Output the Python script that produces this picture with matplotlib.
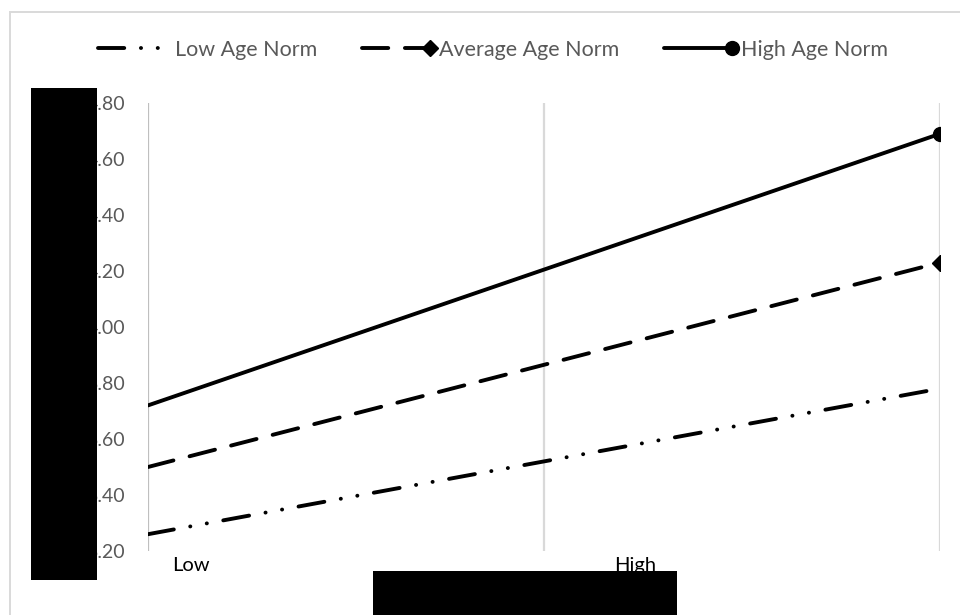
import matplotlib.pyplot as plt
from matplotlib.patches import Rectangle

plt.rcParams['font.family'] = ['Lato', 'DejaVu Sans']
plt.rcParams['lines.scale_dashes'] = False

## Dane
moderator = ['Low', 'High']
series_names = ['Low Age Norm', 'Average Age Norm', 'High Age Norm']
low_norm = [3.26, 3.78]
avg_norm = [3.50, 4.23]
high_norm = [3.72, 4.69]
y_ticks = [3.20, 3.40, 3.60, 3.80, 4.00, 4.20, 4.40, 4.60, 4.80]

x = [0, 1]
label_pos = [0.054, 0.615]

fig = plt.figure(figsize=(9.6, 6.15), dpi=100)
ax = fig.add_axes([148/960, 1 - 551/615, 792/960, 448/615])

## Siatka pionowa
ax.axvline(0, color='#bfbfbf', lw=1.6, zorder=1)
ax.axvline(0.5, color='#d9d9d9', lw=1.6, zorder=1)
ax.axvline(1, color='#d9d9d9', lw=1.6, zorder=1)

lw = 2.8
ax.plot(x, low_norm, color='black', lw=lw, dash_capstyle='round',
        linestyle=(0, (18.9, 12, 0.1, 12, 0.1, 12)), label=series_names[0], zorder=3)
ax.plot(x, avg_norm, color='black', lw=lw, dash_capstyle='round',
        linestyle=(0, (18.9, 12)), marker='D', markersize=8, markevery=[1],
        label=series_names[1], zorder=3)
ax.plot(x, high_norm, color='black', lw=lw, solid_capstyle='round',
        marker='o', markersize=10, markevery=[1], label=series_names[2], zorder=3)

ax.set_xlim(0, 1)
ax.set_ylim(3.2, 4.8)
ax.set_yticks(y_ticks, [f'{v:.2f}' for v in y_ticks])
ax.set_xticks(label_pos, moderator)
ax.tick_params(axis='y', length=0, pad=16.5, labelsize=14, labelcolor='#595959')
ax.tick_params(axis='x', length=0, pad=4, labelsize=14.5, labelcolor='black')
for s in ax.spines.values():
    s.set_visible(False)

leg = fig.legend(loc='center', bbox_to_anchor=(493/960, 1 - 50/615), ncol=3, frameon=False,
                 numpoints=1, handlelength=3.15, handletextpad=0.4, columnspacing=2.1,
                 fontsize=15.5, labelcolor='#595959')
## Znacznik na końcu linii w legendzie, jak w Excelu
for line in leg.get_lines():
    line.set_markevery([2])

## Ramka wykresu i zakryte fragmenty
fig.add_artist(Rectangle((10/960, -0.05), 1.0, 1.05 - 12/615, transform=fig.transFigure,
                         fill=False, edgecolor='#d9d9d9', lw=1.4, zorder=0))
fig.add_artist(Rectangle((31/960, 1 - 580/615), 66/960, 492/615, transform=fig.transFigure,
                         facecolor='black', edgecolor='none', zorder=10))
fig.add_artist(Rectangle((373/960, 0), 304/960, 44/615, transform=fig.transFigure,
                         facecolor='black', edgecolor='none', zorder=10))

fig.savefig('out.png', dpi=100)
